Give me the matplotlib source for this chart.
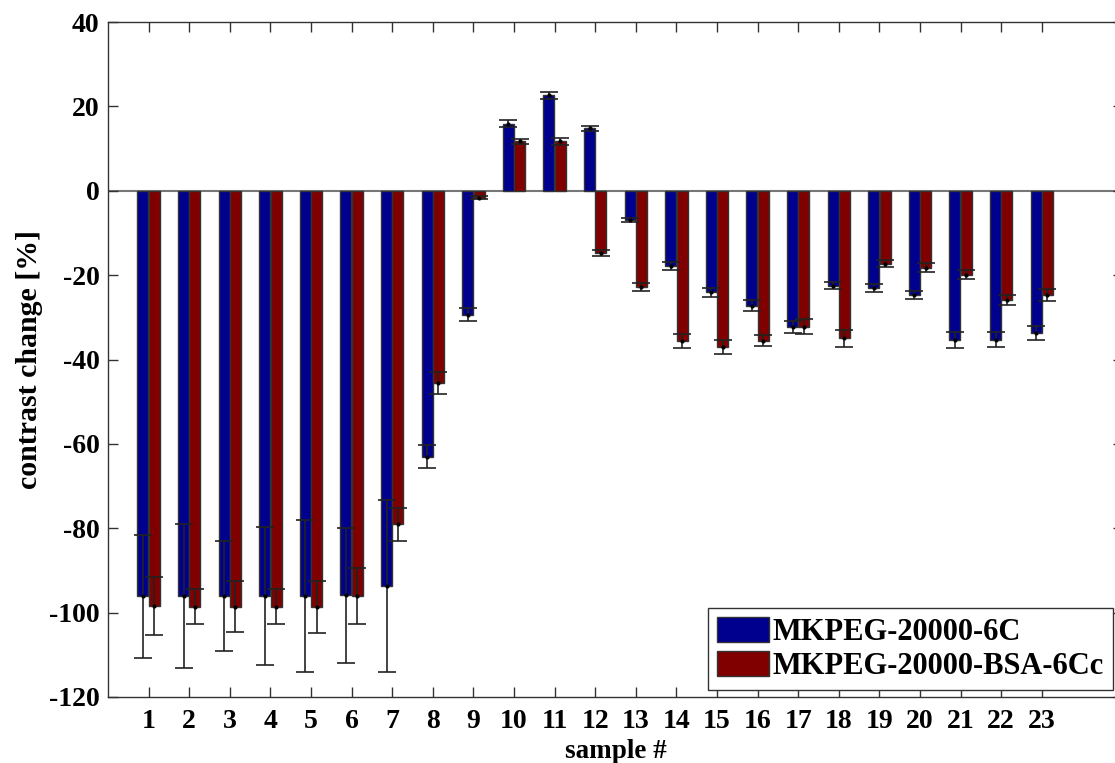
import numpy as np
import matplotlib
matplotlib.use("Agg")
import matplotlib.pyplot as plt

# Samples and measured contrast change (mean and error) for the two coatings
samples = list(range(1, 24))
peg_mean = [-96.1, -96.1, -96.1, -96.1, -96.1, -95.9, -93.7, -63.0, -29.4, 15.9,
            22.6, 14.8, -6.9, -17.8, -24.1, -27.2, -32.2, -22.5, -23.0, -24.7,
            -35.3, -35.3, -33.8]
peg_err = [14.6, 17.0, 13.0, 16.4, 18.0, 16.0, 20.3, 2.7, 1.5, 0.8,
           0.9, 0.6, 0.45, 1.0, 1.15, 1.4, 1.4, 0.9, 1.0, 1.0,
           1.9, 1.8, 1.65]
bsa_mean = [-98.5, -98.6, -98.6, -98.6, -98.6, -96.1, -79.1, -45.5, -1.6, 11.7,
            11.7, -14.8, -22.8, -35.7, -37.1, -35.5, -32.2, -35.0, -17.3, -18.2,
            -19.9, -25.9, -24.7]
bsa_err = [6.9, 4.2, 6.1, 4.2, 6.2, 6.7, 3.9, 2.6, 0.3, 0.65,
           0.8, 0.75, 1.0, 1.65, 1.65, 1.4, 1.8, 2.1, 0.8, 1.1,
           1.0, 1.15, 1.4]
series_names = ["MKPEG-20000-6C", "MKPEG-20000-BSA-6Cc"]
yticks = list(range(-120, 41, 20))

plt.rcParams["font.family"] = ["Liberation Serif", "DejaVu Serif"]
plt.rcParams["font.weight"] = "bold"

fig = plt.figure(figsize=(11.15, 7.63), dpi=100)
ax = fig.add_axes([108 / 1115, 1 - 697 / 763, (1123 - 108) / 1115, (697 - 22) / 763])

x = np.array(samples, dtype=float)
width = 0.27
offset = 0.14
colors = ["#00008f", "#800000"]

for xs, mean, err, col, name in [
    (x - offset, peg_mean, peg_err, colors[0], series_names[0]),
    (x + offset, bsa_mean, bsa_err, colors[1], series_names[1]),
]:
    ax.bar(xs, mean, width=width, color=col, edgecolor="#333333",
           linewidth=1.0, label=name, zorder=2)
    ax.errorbar(xs, mean, yerr=err, fmt=".", color="black", ecolor="#222222",
                elinewidth=1.2, capsize=6.5, capthick=1.2, markersize=4, zorder=3)

ax.axhline(0, color="#777777", linewidth=1.5, zorder=1)

ax.set_xlim(0, 25)
ax.set_ylim(-120, 40)
ax.set_xticks(samples)
ax.set_xticklabels([str(s) for s in samples])
ax.set_yticks(yticks)
ax.set_yticklabels([str(t) for t in yticks])

ax.tick_params(axis="both", direction="in", length=7, width=1.0,
               top=True, right=True, labelsize=20, colors="#333333",
               labelcolor="black")
ax.tick_params(axis="x", pad=9)
ax.tick_params(axis="y", pad=6)
for sp in ax.spines.values():
    sp.set_color("#333333")
    sp.set_linewidth(1.0)

ax.set_xlabel("sample #", fontsize=19.5, fontweight="bold", labelpad=3)
ax.set_ylabel("contrast change [%]", fontsize=21.5, fontweight="bold", labelpad=4)

leg = ax.legend(loc="lower left", bbox_to_anchor=(0.591, 0.0104),
                borderaxespad=0, fancybox=False, edgecolor="#333333",
                framealpha=1, handlelength=1.7, handleheight=0.9,
                handletextpad=0.13, labelspacing=0.12, borderpad=0.3,
                prop={"weight": "bold", "size": 22})
leg.get_frame().set_linewidth(1.0)

fig.savefig("out.png", dpi=100)
